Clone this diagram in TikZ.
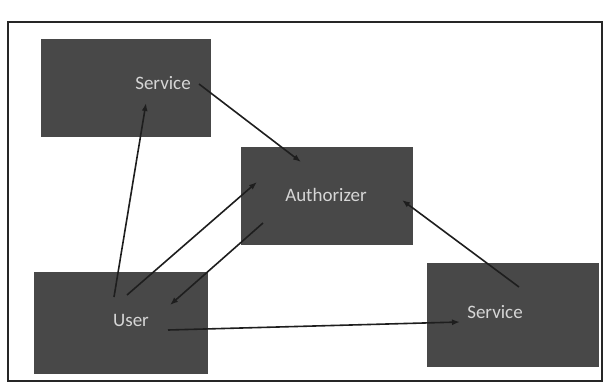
\documentclass[tikz,border=0pt]{standalone}
\usepackage{fontspec}
\setmainfont{Carlito}
\usetikzlibrary{arrows.meta}
\definecolor{boxgray}{HTML}{484848}
\definecolor{txtgray}{HTML}{D6D6D6}
\definecolor{linegray}{HTML}{1E1E1E}
\begin{document}
\begin{tikzpicture}[x=1pt,y=-1pt,
  box/.style={draw=none,fill=boxgray,inner sep=0pt},
  lbl/.style={text=txtgray,font=\fontsize{19}{22}\selectfont,inner sep=0pt},
  conn/.style={draw=linegray,line width=1.6pt,-{Latex[length=8pt,width=6pt]}}]
\useasboundingbox (0,0) rectangle (605,389);
\fill[white] (0,0) rectangle (605,389);
\draw[line width=2pt,draw=black!85] (8,22) rectangle (602,381);
% boxes
\node[box,minimum width=170pt,minimum height=98pt] (svc1) at (125.5,88) {};
\node[box,minimum width=172pt,minimum height=98pt] (auth) at (327,196) {};
\node[box,minimum width=174pt,minimum height=102pt] (user) at (121,323) {};
\node[box,minimum width=172pt,minimum height=104pt] (svc2) at (513,315) {};
% labels
\node[lbl] (svc1t) at (163,83) {Service};
\node[lbl] (autht) at (326,195) {Authorizer};
\node[lbl] (usert) at (131,320) {User};
\node[lbl] (svc2t) at (495,312) {Service};
% connector end points
\coordinate (u1) at (114,297);
\coordinate (s1a) at (146,103);
\coordinate (s1b) at (199,84);
\coordinate (a1) at (301,162);
\coordinate (u2) at (127,295);
\coordinate (a2) at (257,182);
\coordinate (a3) at (263,223);
\coordinate (u3) at (170,305);
\coordinate (a4) at (402,200);
\coordinate (s2a) at (519,287);
\coordinate (u4) at (168,330);
\coordinate (s2b) at (460,322);
% connectors
\draw[conn] (u1) -- (s1a);
\draw[conn] (s1b) -- (a1);
\draw[conn] (u2) -- (a2);
\draw[conn] (a3) -- (u3);
\draw[conn] (s2a) -- (a4);
\draw[conn] (u4) -- (s2b);
\end{tikzpicture}
\end{document}
